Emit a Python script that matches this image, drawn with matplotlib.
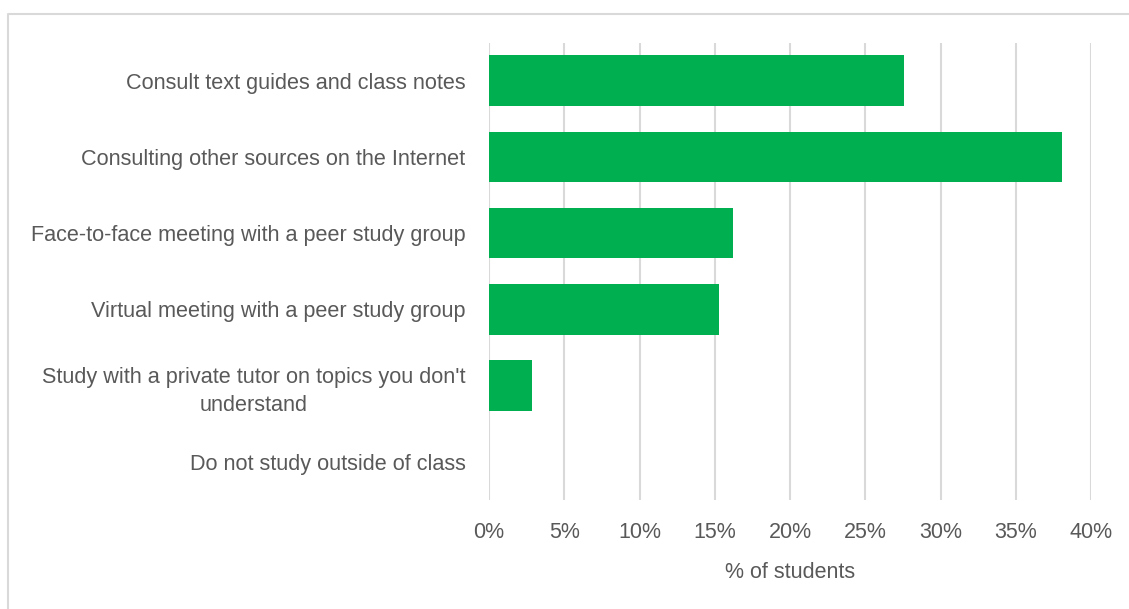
import matplotlib
matplotlib.use("Agg")
from matplotlib import pyplot as plt
from matplotlib.lines import Line2D
from matplotlib.ticker import FuncFormatter

# study habits outside of class, share of students
categories = [
    "Consult text guides and class notes",
    "Consulting other sources on the Internet",
    "Face-to-face meeting with a peer study group",
    "Virtual meeting with a peer study group",
    "Study with a private tutor on topics you don't\nunderstand",
    "Do not study outside of class",
]
shares = [27.6, 38.1, 16.2, 15.25, 2.85, 0.0]
x_ticks = [0, 5, 10, 15, 20, 25, 30, 35, 40]

text_color = "#595959"
grid_color = "#D9D9D9"
bar_color = "#00B050"

plt.rcParams["font.family"] = ["Liberation Sans", "DejaVu Sans"]

fig = plt.figure(figsize=(11.29, 6.09), dpi=100)
ax = fig.add_axes([489 / 1129, 1 - 500 / 609, (1091 - 489) / 1129, (500 - 42.5) / 609])

y = list(range(len(categories)))
ax.barh(y, shares, height=0.66, color=bar_color, zorder=3)
ax.set_ylim(len(categories) - 0.5, -0.5)
ax.set_xlim(0, 40)
ax.set_xticks(x_ticks)
ax.xaxis.set_major_formatter(FuncFormatter(lambda v, p: f"{v:.0f}%"))
ax.set_yticks(y)
ax.set_yticklabels(categories, multialignment="center", linespacing=1.45)

ax.grid(axis="x", color=grid_color, linewidth=1.5, zorder=0)
for s in ax.spines.values():
    s.set_visible(False)
ax.tick_params(axis="both", length=0, colors=text_color)
ax.tick_params(axis="x", pad=16, labelsize=15.5)
ax.tick_params(axis="y", pad=17, labelsize=15.6)

fig.text(790 / 1129, 1 - 572 / 609, "% of students", ha="center", va="center",
         fontsize=15.5, color=text_color)

# chart border, only top and left edges show
fig.add_artist(Line2D([8 / 1129, 8 / 1129, 1.0], [0.0, 1 - 14 / 609, 1 - 14 / 609],
                      transform=fig.transFigure, color=grid_color, linewidth=1.5))

fig.savefig("out.png", dpi=100)
